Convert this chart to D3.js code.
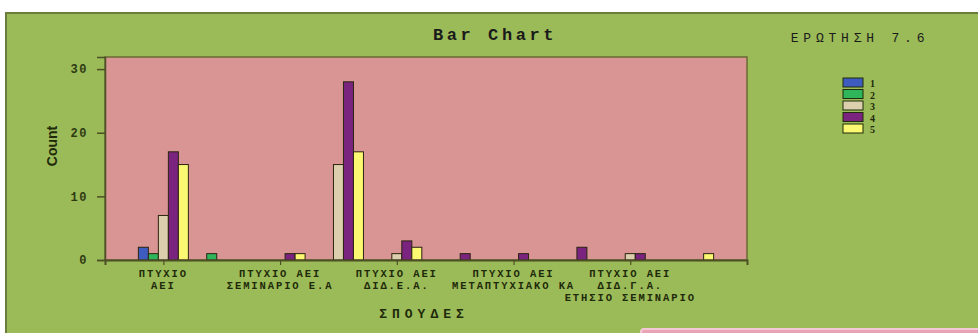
<!DOCTYPE html>
<html>
<head>
<meta charset="utf-8">
<script src="https://cdn.jsdelivr.net/npm/d3@7"></script>
<style>
  html, body { margin: 0; padding: 0; background: #fff; }
  svg { display: block; }
</style>
</head>
<body>
<div id="chart"></div>
<script>
// categories (only every other label is printed, as in the original)
const categories = ["c0", "c1", "c2", "c3", "c4", "c5", "c6", "c7", "c8", "c9"];
const tickLabels = [
  ["ΠΤΥΧΙΟ", "ΑΕΙ"],
  null,
  ["ΠΤΥΧΙΟ ΑΕΙ", "ΣΕΜΙΝΑΡΙΟ Ε.Α"],
  null,
  ["ΠΤΥΧΙΟ ΑΕΙ", "ΔΙΔ.Ε.Α."],
  null,
  ["ΠΤΥΧΙΟ ΑΕΙ", "ΜΕΤΑΠΤΥΧΙΑΚΟ ΚΑ"],
  null,
  ["ΠΤΥΧΙΟ ΑΕΙ", "ΔΙΔ.Γ.Α.", "ΕΤΗΣΙΟ ΣΕΜΙΝΑΡΙΟ"],
  null
];
const seriesNames = ["1", "2", "3", "4", "5"];
const answer1 = [2, 0, 0, 0, 0, 0, 0, 0, 0, 0];
const answer2 = [1, 1, 0, 0, 0, 0, 0, 0, 0, 0];
const answer3 = [7, 0, 0, 15, 1, 0, 0, 0, 1, 0];
const answer4 = [17, 0, 1, 28, 3, 1, 1, 2, 1, 0];
const answer5 = [15, 0, 1, 17, 2, 0, 0, 0, 0, 1];
const yTicks = [0, 10, 20, 30];

const seriesValues = [answer1, answer2, answer3, answer4, answer5];
const colors = ["#3e5cc0", "#2fb55a", "#dccfae", "#7a237f", "#fbf872"];

const W = 978, H = 333;
const plot = { left: 105, right: 747, top: 57, bottom: 260 };
const mono = "'Liberation Mono', 'DejaVu Sans Mono', monospace";

const svg = d3.select("#chart").append("svg")
  .attr("width", W)
  .attr("height", H);

// outer frame
svg.append("rect")
  .attr("x", 6).attr("y", 13)
  .attr("width", W).attr("height", H)
  .attr("fill", "#9bbb59")
  .attr("stroke", "#6b7d3a")
  .attr("stroke-width", 2);

// pink box peeking in at the bottom right
svg.append("rect")
  .attr("x", 641).attr("y", 329)
  .attr("width", 345).attr("height", 20)
  .attr("rx", 3)
  .attr("fill", "#e9a3b6")
  .attr("stroke", "#f3c9d6")
  .attr("stroke-width", 2);

// plot background
svg.append("rect")
  .attr("x", plot.left).attr("y", plot.top)
  .attr("width", plot.right - plot.left)
  .attr("height", plot.bottom - plot.top)
  .attr("fill", "#d99594")
  .attr("stroke", "#6b6a33")
  .attr("stroke-width", 1.5);

const x0 = d3.scalePoint()
  .domain(categories)
  .range([plot.left, plot.right])
  .padding(1);

const x1 = d3.scaleBand()
  .domain(seriesNames)
  .range([-25, 25]);

const y = d3.scaleLinear()
  .domain([0, 31.9])
  .range([plot.bottom, plot.top]);

// bars
const bars = [];
categories.forEach((c, i) => {
  seriesNames.forEach((s, j) => {
    const v = seriesValues[j][i];
    if (v > 0) bars.push({ cat: c, series: s, value: v, color: colors[j] });
  });
});

svg.append("g")
  .selectAll("rect")
  .data(bars)
  .join("rect")
  .attr("x", d => x0(d.cat) + x1(d.series))
  .attr("y", d => y(d.value))
  .attr("width", x1.bandwidth())
  .attr("height", d => y(0) - y(d.value))
  .attr("fill", d => d.color)
  .attr("stroke", "#2b2410")
  .attr("stroke-width", 1);

// y axis
const yAxis = svg.append("g")
  .attr("transform", `translate(${plot.left},0)`)
  .call(d3.axisLeft(y).tickValues(yTicks).tickSize(8).tickPadding(9));
yAxis.select(".domain").attr("stroke", "#4d4f25").attr("stroke-width", 1.5);
yAxis.selectAll(".tick line").attr("stroke", "#4d4f25").attr("stroke-width", 1.5);
yAxis.selectAll(".tick text")
  .attr("fill", "#2f3a12")
  .style("font-family", mono)
  .style("font-weight", "bold")
  .style("font-size", "12px")
  .style("letter-spacing", "1.5px");

// x axis
const labelled = categories.filter((c, i) => tickLabels[i]);
const xAxis = svg.append("g")
  .attr("transform", `translate(0,${plot.bottom})`)
  .call(d3.axisBottom(x0).tickValues(labelled).tickSize(5).tickFormat(""));
xAxis.select(".domain").attr("stroke", "#4d4f25").attr("stroke-width", 2);
xAxis.selectAll(".tick line").attr("stroke", "#4d4f25").attr("stroke-width", 1.2);

const labelG = svg.append("g");
categories.forEach((c, i) => {
  const lines = tickLabels[i];
  if (!lines) return;
  const t = labelG.append("text")
    .attr("x", x0(c))
    .attr("y", 277)
    .attr("text-anchor", "middle")
    .attr("fill", "#1f2a0a")
    .style("font-family", mono)
    .style("font-weight", "bold")
    .style("font-size", "10.5px")
    .style("letter-spacing", "1.9px");
  lines.forEach((ln, k) => {
    t.append("tspan")
      .attr("x", x0(c))
      .attr("dy", k === 0 ? 0 : 12)
      .text(ln);
  });
});

// axis titles
svg.append("text")
  .attr("transform", "translate(57,146) rotate(-90)")
  .attr("text-anchor", "middle")
  .attr("fill", "#1f2a0a")
  .style("font-family", "'Liberation Sans', Arial, sans-serif")
  .style("font-weight", "bold")
  .style("font-size", "14px")
  .text("Count");

svg.append("text")
  .attr("x", 424)
  .attr("y", 318)
  .attr("text-anchor", "middle")
  .attr("fill", "#1f2a0a")
  .style("font-family", mono)
  .style("font-weight", "bold")
  .style("font-size", "13px")
  .style("letter-spacing", "5px")
  .text("ΣΠΟΥΔΕΣ");

// titles
svg.append("text")
  .attr("x", 495)
  .attr("y", 40)
  .attr("text-anchor", "middle")
  .attr("fill", "#1a1a1a")
  .style("font-family", mono)
  .style("font-weight", "bold")
  .style("font-size", "17px")
  .style("letter-spacing", "3.6px")
  .text("Bar Chart");

svg.append("text")
  .attr("x", 860)
  .attr("y", 42)
  .attr("text-anchor", "middle")
  .attr("fill", "#1a1a1a")
  .style("font-family", mono)
  .style("font-size", "13px")
  .style("letter-spacing", "4.8px")
  .text("ΕΡΩΤΗΣΗ 7.6");

// legend
const legend = svg.append("g")
  .attr("transform", "translate(843,78)");
const lg = legend.selectAll("g")
  .data(seriesNames)
  .join("g")
  .attr("transform", (d, i) => `translate(0,${i * 11.5})`);
lg.append("rect")
  .attr("width", 20)
  .attr("height", 9)
  .attr("fill", (d, i) => colors[i])
  .attr("stroke", "#1f2a0a")
  .attr("stroke-width", 1);
lg.append("text")
  .attr("x", 27)
  .attr("y", 9)
  .attr("fill", "#1f2a0a")
  .style("font-family", "'Liberation Serif', serif")
  .style("font-weight", "bold")
  .style("font-size", "10px")
  .text(d => d);
</script>
</body>
</html>
